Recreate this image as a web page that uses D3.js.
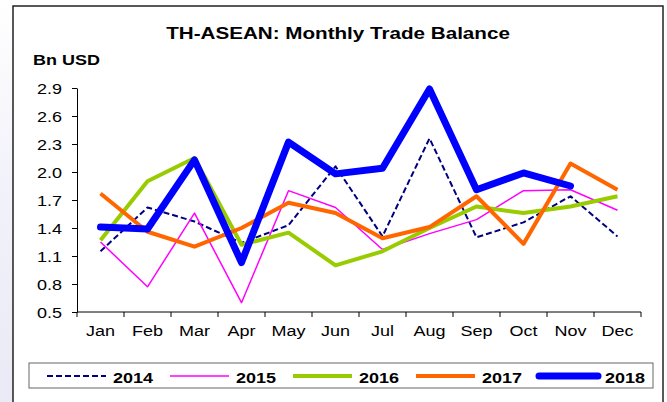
<!DOCTYPE html>
<html>
<head>
<meta charset="utf-8">
<script src="https://cdn.jsdelivr.net/npm/d3@7"></script>
<style>
  html, body { margin: 0; padding: 0; background: #fff; }
  svg { display: block; font-family: "Liberation Sans", Arial, sans-serif; }
</style>
</head>
<body>
<svg id="chart" width="667" height="402"></svg>
<script>
// Monthly trade balance, Thailand vs ASEAN (Bn USD)
const months = ["Jan","Feb","Mar","Apr","May","Jun","Jul","Aug","Sep","Oct","Nov","Dec"];
const yTicks = [0.5, 0.8, 1.1, 1.4, 1.7, 2.0, 2.3, 2.6, 2.9];
const years = ["2014","2015","2016","2017","2018"];

const v2014 = [1.15, 1.62, 1.47, 1.24, 1.43, 2.06, 1.31, 2.36, 1.30, 1.46, 1.74, 1.31];
const v2015 = [1.25, 0.77, 1.56, 0.60, 1.80, 1.62, 1.17, 1.34, 1.49, 1.80, 1.81, 1.59];
const v2016 = [1.27, 1.90, 2.15, 1.22, 1.35, 1.00, 1.15, 1.40, 1.63, 1.56, 1.63, 1.74];
const v2017 = [1.77, 1.36, 1.20, 1.40, 1.67, 1.56, 1.29, 1.41, 1.74, 1.23, 2.09, 1.81];
const v2018 = [1.41, 1.39, 2.13, 1.03, 2.32, 1.98, 2.04, 2.89, 1.81, 1.99, 1.85];

const seriesValues = [v2014, v2015, v2016, v2017, v2018];
const styles = [
  { color: "#000080", width: 2,   dash: "6,3" },
  { color: "#ff00ff", width: 1.5, dash: null },
  { color: "#99cc00", width: 4,   dash: null },
  { color: "#ff6600", width: 4,   dash: null },
  { color: "#0000ff", width: 7,   dash: null }
];

const svg = d3.select("#chart");
const K = 1.2; // horizontal text stretch used throughout the chart

// soft tinted strip at the far left
const grad = svg.append("defs").append("linearGradient")
  .attr("id", "edge").attr("x1", 0).attr("y1", 0).attr("x2", 0).attr("y2", 1);
grad.append("stop").attr("offset", "0%").attr("stop-color", "#ffffff");
grad.append("stop").attr("offset", "45%").attr("stop-color", "#f2f2fa");
grad.append("stop").attr("offset", "100%").attr("stop-color", "#eaeaf6");
svg.append("rect").attr("x", 0).attr("y", 0).attr("width", 13).attr("height", 402)
  .attr("fill", "url(#edge)");

// outer frame
svg.append("rect").attr("x", 13).attr("y", 6).attr("width", 650).attr("height", 410)
  .attr("fill", "#fff").attr("stroke", "#222").attr("stroke-width", 1.5);

const plot = { left: 77, right: 641, top: 88, bottom: 312 };

const x = d3.scaleBand().domain(months).range([plot.left, plot.right]).padding(0);
const y = d3.scaleLinear().domain([0.5, 2.9]).range([plot.bottom, plot.top]);

// stretched text helper: places text at (px, py) and scales horizontally
function stretchedText(parent, px, py, str, size, weight, anchor, k) {
  const g = parent.append("g").attr("transform", `translate(${px},${py}) scale(${k},1)`);
  return g.append("text").attr("x", 0).attr("y", 0)
    .attr("font-size", size).attr("font-weight", weight)
    .attr("text-anchor", anchor).attr("fill", "#000").text(str);
}

// title
const titleText = stretchedText(svg, 338, 39, "TH-ASEAN: Monthly Trade Balance", 17, "bold", "middle", 1);
const tw = titleText.node().getComputedTextLength();
titleText.node().parentNode.setAttribute("transform", `translate(338,39) scale(${344 / tw},1)`);

// unit label
stretchedText(svg, 33, 65, "Bn USD", 15, "bold", "start", K);

// y axis
const yAxis = svg.append("g").attr("transform", `translate(${plot.left},0)`)
  .call(d3.axisLeft(y).tickValues(yTicks).tickFormat(d3.format(".1f")).tickSize(5).tickSizeOuter(0));
yAxis.select(".domain").attr("stroke", "#000").attr("stroke-width", 1);
yAxis.selectAll(".tick line").attr("stroke", "#000");
yAxis.selectAll(".tick text")
  .attr("font-family", "Liberation Sans, Arial, sans-serif")
  .attr("font-size", 15).attr("fill", "#000")
  .attr("x", -15 / K).attr("dy", "0.36em")
  .attr("transform", `scale(${K},1)`);

// x axis with ticks at band boundaries
const xAxisG = svg.append("g").attr("transform", `translate(0,${plot.bottom})`);
xAxisG.append("line").attr("x1", plot.left).attr("x2", plot.right)
  .attr("y1", 0).attr("y2", 0).attr("stroke", "#000");
const bounds = months.map(m => x(m)).concat([x(months[months.length - 1]) + x.bandwidth()]);
xAxisG.selectAll("line.tk").data(bounds).join("line").attr("class", "tk")
  .attr("x1", d => d).attr("x2", d => d).attr("y1", 0).attr("y2", 5).attr("stroke", "#000");
months.forEach(m => {
  stretchedText(xAxisG, x(m) + x.bandwidth() / 2, 24, m, 15, "normal", "middle", K);
});

// series lines
const line = d3.line()
  .x((d, i) => x(months[i]) + x.bandwidth() / 2)
  .y(d => y(d));

seriesValues.forEach((vals, i) => {
  const s = styles[i];
  svg.append("path").datum(vals)
    .attr("d", line)
    .attr("fill", "none")
    .attr("stroke", s.color)
    .attr("stroke-width", s.width)
    .attr("stroke-linejoin", "round")
    .attr("stroke-linecap", i === 4 ? "round" : "butt")
    .attr("stroke-dasharray", s.dash);
});

// legend
const legend = svg.append("g");
legend.append("rect").attr("x", 29).attr("y", 363).attr("width", 624).attr("height", 25)
  .attr("fill", "#fff").attr("stroke", "#666").attr("stroke-width", 1);
years.forEach((yr, i) => {
  const lx = 47 + i * 123;
  const s = styles[i];
  legend.append("line").attr("x1", lx).attr("x2", lx + 59).attr("y1", 376).attr("y2", 376)
    .attr("stroke", s.color).attr("stroke-width", s.width)
    .attr("stroke-linecap", i === 4 ? "round" : "butt")
    .attr("stroke-dasharray", s.dash);
  stretchedText(legend, lx + 66, 383, yr, 15, "bold", "start", K);
});
</script>
</body>
</html>
